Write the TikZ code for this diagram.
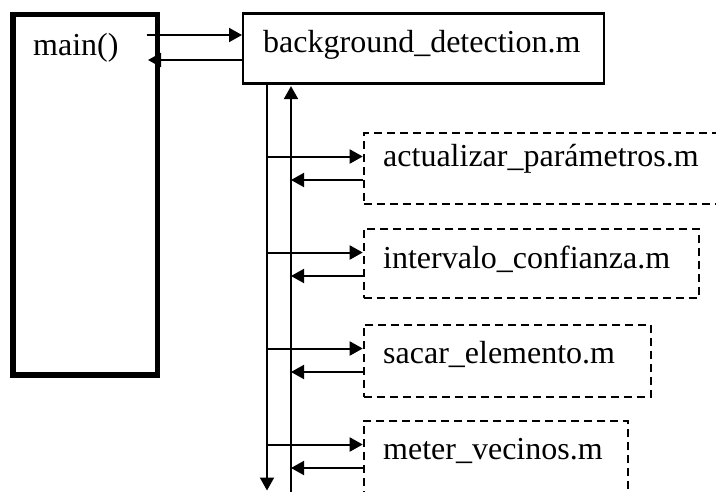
\documentclass[tikz,border=0pt]{standalone}
\usepackage{fontspec}
\setmainfont{Liberation Serif}
\usetikzlibrary{arrows.meta,calc}
\tikzset{
  arr/.style={line width=2pt,-{Triangle[length=13pt,width=14pt]}},
  boxsolid/.style={draw,line width=2.4pt,inner sep=0pt,anchor=north west},
  boxdash/.style={draw,line width=1.9pt,dash pattern=on 8pt off 5pt,inner sep=0pt,anchor=north west},
  lbl/.style={anchor=base west,inner sep=0pt,font=\fontsize{32}{38}\selectfont}
}
\begin{document}
\begin{tikzpicture}[x=1pt,y=-1pt]
\useasboundingbox (0,0) rectangle (716,491);
\clip (0,0) rectangle (716,491);
\fill[white] (0,0) rectangle (716,491);
% main box
\node[draw,line width=5.5pt,inner sep=0pt,minimum width=144.5pt,minimum height=360.3pt,anchor=north west] (main) at (10,11.7) {};
\node[lbl] (mainlbl) at (33,55) {main()};
% background detection box
\node[boxsolid,minimum width=360.5pt,minimum height=70pt] (bg) at (242,12.2) {};
\node[lbl] (bglbl) at (263,52) {background\_detection.m};
% main <-> bg arrows
\coordinate (m1) at (146.5,35);
\coordinate (m2) at (148,60);
\draw[arr] (m1) -- (m1 -| bg.west);
\draw[arr] (m2 -| bg.west) -- (m2);
% vertical lines
\coordinate (vL) at (267,490.5);
\coordinate (vR) at (291,492);
\draw[arr] (vL |- bg.south) -- (vL);
\draw[arr] (vR) -- ($(vR |- bg.south)+(0,1.5)$);
% dashed boxes
\node[boxdash,minimum width=370pt,minimum height=71pt] (d1) at (362.7,132) {};
\node[lbl] (t1) at (383,166.7) {actualizar\_parámetros.m};
\node[boxdash,minimum width=335.3pt,minimum height=69pt] (d2) at (362.7,228) {};
\node[lbl] (t2) at (383,268) {intervalo\_confianza.m};
\node[boxdash,minimum width=287.3pt,minimum height=72pt] (d3) at (362.7,324) {};
\node[lbl] (t3) at (383,363) {sacar\_elemento.m};
\node[boxdash,minimum width=264.3pt,minimum height=90pt] (d4) at (362.7,420) {};
\node[lbl] (t4) at (383,459) {meter\_vecinos.m};
% call/return arrows
\foreach \d in {d1,d2,d3,d4}{
  \coordinate (f\d) at ($(\d.north west)+(0,24.5)$);
  \coordinate (b\d) at ($(\d.north west)+(0,48)$);
  \draw[arr] (f\d -| vL) -- (f\d);
  \draw[arr] (b\d) -- (b\d -| vR);
}
\end{tikzpicture}
\end{document}
